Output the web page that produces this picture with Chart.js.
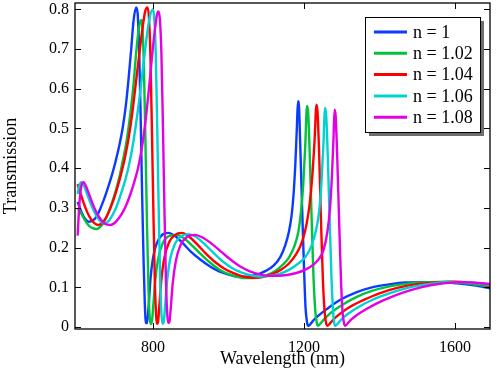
<!DOCTYPE html>
<html>
<head>
<meta charset="utf-8">
<script src="https://cdn.jsdelivr.net/npm/chart.js@4.4.1/dist/chart.umd.min.js"></script>
<style>
  html, body { margin: 0; padding: 0; background: #fff; }
  #wrap { width: 498px; height: 370px; }
</style>
</head>
<body>
<div id="wrap"><canvas id="trans"></canvas></div>
<script>
// legend labels
const labels = ['n = 1', 'n = 1.02', 'n = 1.04', 'n = 1.06', 'n = 1.08'];
const colors = ['#0a3cff', '#00c23c', '#ff0000', '#00d2d2', '#e400e4'];

const xTicks = [800, 1200, 1600];
const yTicks = [0, 0.1, 0.2, 0.3, 0.4, 0.5, 0.6, 0.7, 0.8];

// n = 1
const wl1 = [600, 610, 620, 630, 640, 650, 660, 670, 680, 690, 700, 710, 720, 728, 735, 742, 748, 755, 759, 763, 767, 771, 775, 778, 781, 784, 788, 793, 800, 810, 825, 840, 860, 880, 900, 925, 950, 975, 1000, 1025, 1050, 1075, 1100, 1120, 1137, 1150, 1160, 1167, 1172, 1177, 1181, 1184, 1187, 1190, 1195, 1200, 1204, 1208, 1211, 1216, 1225, 1240, 1260, 1295, 1340, 1380, 1430, 1470, 1515, 1560, 1605, 1650, 1695];
const tr1 = [0.315, 0.29, 0.272, 0.265, 0.268, 0.278, 0.298, 0.322, 0.35, 0.38, 0.415, 0.455, 0.505, 0.56, 0.625, 0.70, 0.77, 0.805, 0.79, 0.70, 0.53, 0.33, 0.16, 0.06, 0.01, 0.01, 0.05, 0.12, 0.175, 0.212, 0.233, 0.237, 0.228, 0.21, 0.19, 0.17, 0.153, 0.14, 0.132, 0.127, 0.127, 0.132, 0.142, 0.155, 0.176, 0.205, 0.24, 0.28, 0.33, 0.41, 0.50, 0.569, 0.55, 0.46, 0.30, 0.15, 0.05, 0.012, 0.003, 0.006, 0.017, 0.03, 0.045, 0.068, 0.088, 0.10, 0.108, 0.112, 0.113, 0.113, 0.11, 0.105, 0.097];

// n = 1.02
const wl2 = [600, 610, 620, 630, 640, 651, 660, 670, 680, 690, 700, 710, 720, 730, 740, 748, 755, 762, 768, 772, 776, 780, 784, 788, 791, 794, 797, 801, 806, 813, 825, 840, 863, 880, 900, 925, 950, 975, 1000, 1025, 1050, 1075, 1100, 1125, 1145, 1160, 1175, 1185, 1192, 1198, 1203, 1208, 1211, 1215, 1220, 1225, 1230, 1234, 1237, 1242, 1252, 1270, 1300, 1340, 1380, 1430, 1480, 1530, 1580, 1630, 1695];
const tr2 = [0.30, 0.285, 0.268, 0.255, 0.249, 0.247, 0.252, 0.265, 0.285, 0.31, 0.34, 0.375, 0.42, 0.47, 0.54, 0.61, 0.69, 0.75, 0.773, 0.75, 0.64, 0.45, 0.25, 0.09, 0.025, 0.008, 0.015, 0.06, 0.12, 0.17, 0.21, 0.228, 0.232, 0.225, 0.208, 0.185, 0.163, 0.145, 0.133, 0.126, 0.123, 0.124, 0.13, 0.142, 0.158, 0.175, 0.205, 0.24, 0.29, 0.36, 0.45, 0.557, 0.54, 0.44, 0.28, 0.13, 0.04, 0.01, 0.003, 0.007, 0.018, 0.035, 0.055, 0.076, 0.091, 0.103, 0.11, 0.113, 0.114, 0.11, 0.101];

// n = 1.04
const wl3 = [600, 605, 615, 625, 635, 645, 655, 665, 675, 685, 695, 705, 715, 725, 735, 745, 755, 765, 773, 779, 785, 789, 793, 797, 801, 805, 808, 810, 813, 817, 822, 830, 843, 858, 876, 895, 915, 940, 965, 990, 1015, 1040, 1065, 1090, 1115, 1140, 1160, 1180, 1195, 1207, 1215, 1222, 1228, 1233, 1236, 1240, 1245, 1250, 1255, 1259, 1262, 1267, 1277, 1295, 1320, 1360, 1400, 1450, 1500, 1550, 1600, 1650, 1695];
const tr3 = [0.36, 0.345, 0.315, 0.29, 0.272, 0.261, 0.257, 0.262, 0.275, 0.295, 0.32, 0.35, 0.385, 0.425, 0.475, 0.54, 0.62, 0.70, 0.76, 0.795, 0.805, 0.78, 0.68, 0.49, 0.28, 0.10, 0.03, 0.008, 0.012, 0.06, 0.12, 0.175, 0.215, 0.232, 0.237, 0.228, 0.21, 0.185, 0.163, 0.146, 0.135, 0.127, 0.124, 0.126, 0.133, 0.145, 0.16, 0.185, 0.215, 0.26, 0.31, 0.38, 0.47, 0.56, 0.54, 0.44, 0.27, 0.12, 0.035, 0.008, 0.003, 0.007, 0.018, 0.033, 0.05, 0.069, 0.085, 0.099, 0.108, 0.112, 0.114, 0.11, 0.104];

// n = 1.06
const wl4 = [600, 604, 610, 617, 627, 637, 647, 657, 667, 673, 683, 693, 703, 713, 723, 733, 743, 753, 763, 773, 783, 791, 799, 803, 807, 811, 815, 819, 822, 825, 828, 832, 837, 845, 858, 873, 893, 912, 935, 960, 985, 1010, 1035, 1060, 1085, 1110, 1135, 1160, 1185, 1205, 1220, 1232, 1240, 1246, 1251, 1256, 1259, 1263, 1268, 1273, 1277, 1280, 1283, 1288, 1298, 1315, 1340, 1380, 1430, 1480, 1530, 1580, 1630, 1695];
const tr4 = [0.335, 0.355, 0.365, 0.355, 0.33, 0.305, 0.285, 0.27, 0.262, 0.262, 0.268, 0.283, 0.303, 0.33, 0.36, 0.395, 0.44, 0.50, 0.57, 0.65, 0.73, 0.78, 0.80, 0.78, 0.69, 0.50, 0.29, 0.11, 0.035, 0.008, 0.012, 0.055, 0.115, 0.17, 0.21, 0.228, 0.234, 0.228, 0.21, 0.187, 0.165, 0.148, 0.137, 0.13, 0.127, 0.129, 0.134, 0.144, 0.16, 0.178, 0.205, 0.245, 0.29, 0.36, 0.45, 0.552, 0.53, 0.43, 0.27, 0.12, 0.04, 0.01, 0.003, 0.007, 0.018, 0.032, 0.048, 0.068, 0.086, 0.10, 0.108, 0.113, 0.112, 0.106];

// n = 1.08
const wl5 = [600, 604, 608, 612, 616, 622, 632, 642, 652, 662, 672, 686, 698, 710, 720, 730, 740, 750, 760, 770, 780, 790, 798, 805, 810, 814, 818, 822, 826, 830, 834, 837, 840, 843, 847, 852, 860, 872, 890, 911, 930, 955, 980, 1005, 1030, 1055, 1080, 1105, 1130, 1155, 1180, 1205, 1225, 1240, 1252, 1262, 1269, 1274, 1278, 1281, 1284, 1288, 1293, 1298, 1302, 1306, 1309, 1314, 1324, 1340, 1370, 1410, 1460, 1510, 1560, 1610, 1650, 1695];
const tr5 = [0.23, 0.30, 0.345, 0.362, 0.365, 0.355, 0.33, 0.305, 0.285, 0.27, 0.26, 0.257, 0.262, 0.275, 0.29, 0.31, 0.335, 0.365, 0.40, 0.45, 0.52, 0.61, 0.69, 0.75, 0.785, 0.795, 0.775, 0.69, 0.51, 0.30, 0.12, 0.04, 0.01, 0.012, 0.05, 0.11, 0.165, 0.205, 0.227, 0.232, 0.226, 0.21, 0.19, 0.17, 0.153, 0.141, 0.133, 0.129, 0.129, 0.131, 0.136, 0.145, 0.157, 0.172, 0.195, 0.24, 0.30, 0.38, 0.47, 0.547, 0.53, 0.43, 0.27, 0.12, 0.04, 0.01, 0.003, 0.007, 0.018, 0.03, 0.048, 0.067, 0.086, 0.10, 0.109, 0.113, 0.112, 0.108];

const wls = [wl1, wl2, wl3, wl4, wl5];
const trs = [tr1, tr2, tr3, tr4, tr5];

const serif = 'Liberation Serif, Times New Roman, serif';

// box round the plot, ticks pointing inwards
const frame = {
    id: 'frame',
    afterDatasetsDraw(chart) {
        const ctx = chart.ctx;
        const a = chart.chartArea;
        const x = chart.scales.x, y = chart.scales.y;
        const len = 6;
        ctx.save();
        ctx.strokeStyle = '#000';
        ctx.lineWidth = 1.3;
        ctx.strokeRect(a.left, a.top, a.right - a.left, a.bottom - a.top);
        ctx.beginPath();
        xTicks.forEach(v => {
            const px = Math.round(x.getPixelForValue(v)) + 0.5;
            ctx.moveTo(px, a.bottom); ctx.lineTo(px, a.bottom - len);
            ctx.moveTo(px, a.top); ctx.lineTo(px, a.top + len);
        });
        yTicks.forEach(v => {
            const py = Math.round(y.getPixelForValue(v)) + 0.5;
            ctx.moveTo(a.left, py); ctx.lineTo(a.left + len, py);
            ctx.moveTo(a.right, py); ctx.lineTo(a.right - len, py);
        });
        ctx.lineWidth = 1;
        ctx.stroke();
        ctx.restore();
    }
};

// boxed legend with a drop shadow, top right
const boxLegend = {
    id: 'boxLegend',
    afterDraw(chart) {
        const ctx = chart.ctx;
        const bx = 365, by = 17, bw = 115, bh = 115;
        ctx.save();
        ctx.fillStyle = '#6e6e6e';
        ctx.fillRect(bx + 4, by + 4, bw, bh);
        ctx.fillStyle = '#fff';
        ctx.fillRect(bx, by, bw, bh);
        ctx.strokeStyle = '#000';
        ctx.lineWidth = 1;
        ctx.strokeRect(bx + 0.5, by + 0.5, bw, bh);
        ctx.font = '18px ' + serif;
        ctx.textBaseline = 'middle';
        ctx.fillStyle = '#000';
        chart.data.datasets.forEach((ds, i) => {
            const ly = by + 15 + i * 21.3;
            ctx.strokeStyle = ds.borderColor;
            ctx.lineWidth = 3;
            ctx.beginPath();
            ctx.moveTo(bx + 9, ly); ctx.lineTo(bx + 42, ly);
            ctx.stroke();
            ctx.fillText(ds.label, bx + 48, ly + 1);
        });
        ctx.restore();
    }
};

new Chart(document.getElementById('trans'), {
    type: 'line',
    data: {
        datasets: labels.map((lab, i) => ({
            label: lab,
            data: wls[i].map((w, k) => ({x: w, y: trs[i][k]})),
            borderColor: colors[i],
            borderWidth: 2.4,
            pointRadius: 0,
            cubicInterpolationMode: 'monotone',
            order: 5 - i
        }))
    },
    options: {
        responsive: true,
        maintainAspectRatio: false,
        animation: false,
        layout: { padding: { top: 3, right: 8, left: 0, bottom: 0 } },
        plugins: { legend: { display: false }, tooltip: { enabled: false } },
        scales: {
            x: {
                type: 'linear',
                min: 593,
                max: 1693,
                grid: { display: false, drawTicks: false },
                border: { display: false },
                afterBuildTicks(scale) { scale.ticks = xTicks.map(v => ({value: v})); },
                afterFit(scale) { scale.height = 41; scale.paddingLeft = 0; scale.paddingRight = 0; },
                ticks: { color: '#000', padding: 9, maxRotation: 0, font: { family: serif, size: 16 }, callback: v => String(v) },
                title: { display: true, text: 'Wavelength (nm)', color: '#000', padding: { top: 0, bottom: 0 }, font: { family: serif, size: 18 } }
            },
            y: {
                min: -0.005,
                max: 0.816,
                grid: { display: false, drawTicks: false },
                border: { display: false },
                afterBuildTicks(scale) { scale.ticks = yTicks.map(v => ({value: v})); },
                afterFit(scale) { scale.width = 75; scale.paddingTop = 0; scale.paddingBottom = 0; },
                ticks: {
                    color: '#000',
                    padding: 6,
                    font: { family: serif, size: 16 },
                    callback: v => v === 0 ? '0' : v.toFixed(1)
                },
                title: { display: true, text: 'Transmission', color: '#000', padding: 0, font: { family: serif, size: 18 } }
            }
        }
    },
    plugins: [frame, boxLegend]
});
</script>
</body>
</html>
